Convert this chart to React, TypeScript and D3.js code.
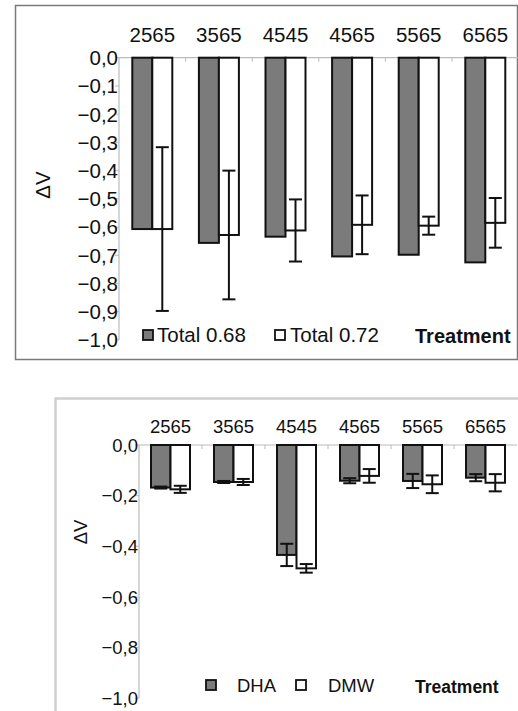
import React from 'react';
import * as d3 from 'd3';

// treatments along the top of both panels
const treatments = ['2565', '3565', '4545', '4565', '5565', '6565'];

// top panel: total, two levels
const total068 = [-0.607, -0.656, -0.634, -0.704, -0.698, -0.725];
const total072 = [-0.607, -0.628, -0.612, -0.592, -0.595, -0.585];
const total072Err = [0.29, 0.228, 0.11, 0.104, 0.032, 0.088];

// bottom panel: DHA vs DMW
const dha = [-0.168, -0.146, -0.434, -0.141, -0.142, -0.129];
const dhaErr = [0.004, 0.004, 0.044, 0.01, 0.028, 0.014];
const dmw = [-0.175, -0.146, -0.487, -0.122, -0.155, -0.149];
const dmwErr = [0.014, 0.012, 0.017, 0.027, 0.035, 0.034];

const topTicks = d3.range(0, 11).map(i => -i / 10);
const bottomTicks = d3.range(0, 6).map(i => -i / 5);

const GRAY = '#7b7b7b';
const FONT = '"Liberation Sans", Arial, sans-serif';
const fmt = (v: number) => d3.format('.1f')(Math.abs(v) < 1e-9 ? 0 : v).replace('.', ',');

type Series = { name: string; values: number[]; err?: number[]; fill: string };

function Panel(props: {
  x0: number; x1: number; y0: number; y1: number; groupW: number;
  series: Series[]; ticks: number[]; fs: number; fsBold: number;
  catY: number; ylabX: number; ylabY: number;
  legend: { x: number; textX: number }[]; legY: number; treatX: number;
}) {
  const { x0, x1, y0, y1, groupW, series, ticks, fs } = props;
  const y = d3.scaleLinear().domain([-1, 0]).range([y1, y0]);
  const x = d3.scaleBand<string>().domain(treatments).range([x0, x1]).padding(0);
  const pOut = (x.bandwidth() / (groupW / series.length) - series.length) / 2;
  const xs = d3.scaleBand<string>().domain(series.map(s => s.name))
    .range([0, x.bandwidth()]).paddingInner(0).paddingOuter(pOut);
  const capW = 6.5;
  return (
    <g fontFamily={FONT} fill="#111">
      {/* axes */}
      <line x1={x0} x2={x0} y1={y0} y2={y1} stroke="#bbb" strokeWidth={1.2} />
      <line x1={x0} x2={x1} y1={y0} y2={y0} stroke="#bbb" strokeWidth={1.2} />
      {ticks.map(t => (
        <g key={t}>
          <line x1={x0 - 4} x2={x0} y1={y(t)} y2={y(t)} stroke="#bbb" />
          <text x={x0 - 1} y={y(t)} dy="0.36em" textAnchor="end" fontSize={fs}>{fmt(t)}</text>
        </g>
      ))}
      {treatments.slice(1).map(c => (
        <line key={c} x1={x(c)!} x2={x(c)!} y1={y0} y2={y0 + 4} stroke="#bbb" />
      ))}
      {treatments.map(c => (
        <text key={c} x={x(c)! + x.bandwidth() / 2} y={props.catY} textAnchor="middle" fontSize={fs}>{c}</text>
      ))}
      {/* bars */}
      {series.map(s => s.values.map((v, i) => {
        const bx = x(treatments[i])! + xs(s.name)!;
        return (
          <rect key={s.name + i} x={bx} y={y(0)} width={xs.bandwidth()} height={y(v) - y(0)}
            fill={s.fill} stroke="#111" strokeWidth={2} />
        );
      }))}
      {/* error bars */}
      {series.filter(s => s.err).map(s => s.values.map((v, i) => {
        const cx = x(treatments[i])! + xs(s.name)! + xs.bandwidth() / 2;
        const lo = y(v - s.err![i]);
        const hi = y(v + s.err![i]);
        return (
          <g key={'e' + s.name + i} stroke="#111" strokeWidth={2}>
            <line x1={cx} x2={cx} y1={hi} y2={lo} />
            <line x1={cx - capW} x2={cx + capW} y1={hi} y2={hi} />
            <line x1={cx - capW} x2={cx + capW} y1={lo} y2={lo} />
          </g>
        );
      }))}
      {/* y label */}
      <text transform={`translate(${props.ylabX},${props.ylabY}) rotate(-90)`} textAnchor="middle"
        dy="0.36em" fontSize={fs}>ΔV</text>
      {/* legend */}
      {series.map((s, i) => (
        <g key={'l' + s.name}>
          <rect x={props.legend[i].x} y={props.legY - 10} width={10} height={10} fill={s.fill}
            stroke="#111" strokeWidth={1.8} />
          <text x={props.legend[i].textX} y={props.legY + 2} fontSize={fs}>{s.name}</text>
        </g>
      ))}
      <text x={props.treatX} y={props.legY + 3} fontSize={props.fsBold} fontWeight="bold">Treatment</text>
    </g>
  );
}

export default function App() {
  return (
    <svg width={518} height={711} style={{ position: 'absolute', left: 0, top: 0, background: '#fff' }}>
      <rect x={0} y={0} width={518} height={711} fill="#fff" />
      <rect x={15.5} y={5.5} width={502} height={354} fill="#fff" stroke="#7a7a7a" strokeWidth={1.5} />
      <rect x={55.5} y={398.5} width={480} height={330} fill="#fff" stroke="#cfcfcf" strokeWidth={2.5} />
      <Panel x0={119} x1={518.6} y0={57.7} y1={340} groupW={40}
        series={[
          { name: 'Total 0.68', values: total068, fill: GRAY },
          { name: 'Total 0.72', values: total072, err: total072Err, fill: '#fff' },
        ]}
        ticks={topTicks} fs={20.5} fsBold={20} catY={42} ylabX={43} ylabY={185}
        legend={[{ x: 143, textX: 157 }, { x: 275, textX: 290 }]} legY={340} treatX={415} />
      <Panel x0={139} x1={517} y0={445} y1={698.3} groupW={39}
        series={[
          { name: 'DHA', values: dha, err: dhaErr, fill: GRAY },
          { name: 'DMW', values: dmw, err: dmwErr, fill: '#fff' },
        ]}
        ticks={bottomTicks} fs={18.5} fsBold={17.5} catY={433} ylabX={80} ylabY={532}
        legend={[{ x: 206, textX: 237 }, { x: 296, textX: 328 }]} legY={690} treatX={415} />
    </svg>
  );
}
